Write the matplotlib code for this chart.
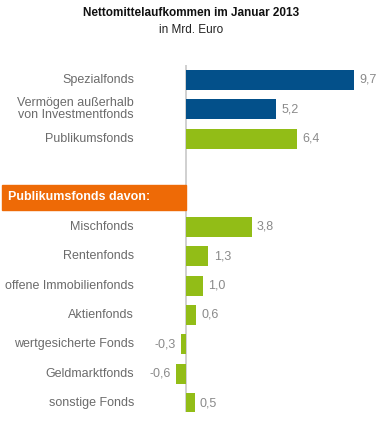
import matplotlib.pyplot as plt
from matplotlib.patches import Rectangle
import matplotlib.transforms as mtransforms

plt.rcParams['font.family'] = ['Liberation Sans', 'DejaVu Sans']

# data
labels = ["Spezialfonds", "Vermögen außerhalb\nvon Investmentfonds", "Publikumsfonds",
          None, None,
          "Mischfonds", "Rentenfonds", "offene Immobilienfonds", "Aktienfonds",
          "wertgesicherte Fonds", "Geldmarktfonds", "sonstige Fonds"]
values = [9.7, 5.2, 6.4, None, None, 3.8, 1.3, 1.0, 0.6, -0.3, -0.6, 0.5]
groups = ["blue", "blue", "green", None, None,
          "green", "green", "green", "green", "green", "green", "green"]
banner_text = "Publikumsfonds davon:"
title = "Nettomittelaufkommen im Januar 2013"
subtitle = "in Mrd. Euro"

colors = {"blue": "#03508a", "green": "#92bd17"}
W, H = 383, 422
fig = plt.figure(figsize=(W / 100, H / 100), dpi=100)

# axes over full width, zero at pixel 186
px_unit = 17.3
zero_px = 186
ax = fig.add_axes([0, (H - 412) / H, 1, (412 - 65) / H])
ax.set_xlim(-zero_px / px_unit, (W - zero_px) / px_unit)
ax.set_ylim(11.3, -0.5)
ax.axis("off")

for i, (lab, v, g) in enumerate(zip(labels, values, groups)):
    if v is None:
        continue
    ax.barh(i, v, height=0.68, color=colors[g], edgecolor="none")
    txt = f"{v:.1f}".replace(".", ",")
    if v >= 0:
        ax.text(v + 0.3, i, txt, va="center", ha="left", fontsize=9, color="#8a8a8a")
    else:
        ax.text(v - 0.3, i, txt, va="center", ha="right", fontsize=9, color="#8a8a8a")
    lab_tr = mtransforms.blended_transform_factory(fig.transFigure, ax.transData)
    ax.text(134 / W, i, lab, transform=lab_tr, ha="right", va="center",
            fontsize=9, color="#6b6b6b", linespacing=1.0, multialignment="right")

ax.axvline(0, color="#c8c8c8", lw=1.2, zorder=0)

# banner
btr = mtransforms.blended_transform_factory(fig.transFigure, ax.transData)
ax.add_patch(Rectangle((2 / W, 4 - 0.42), (zero_px - 2) / W, 0.84, transform=btr,
                       color="#ee6a06", clip_on=False, zorder=3))
ax.text(8 / W, 4, banner_text, transform=btr, ha="left", va="center",
        fontsize=9, fontweight="bold", color="white", zorder=4)

fig.text(0.5, 1 - 13 / H, title, ha="center", va="center", fontsize=8.5,
         fontweight="bold", color="#111111")
fig.text(0.5, 1 - 30 / H, subtitle, ha="center", va="center", fontsize=8.5,
         color="#222222")

fig.savefig("out.png", dpi=100)
